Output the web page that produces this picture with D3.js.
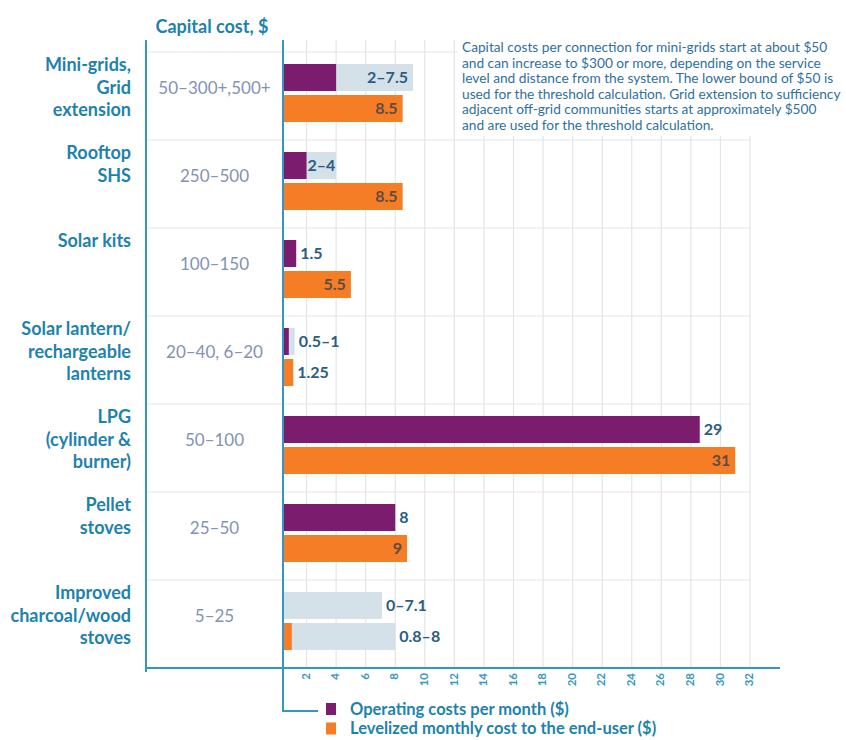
<!DOCTYPE html>
<html>
<head>
<meta charset="utf-8">
<script src="https://cdn.jsdelivr.net/npm/d3@7"></script>
<style>
  html, body { margin: 0; padding: 0; background: #ffffff; }
  svg { display: block; font-family: Lato, "Open Sans", sans-serif; }
</style>
</head>
<body>
<svg id="chart" width="846" height="740"></svg>
<script>
// ---- data ----
const categories = [
  "Mini-grids,\nGrid\nextension",
  "Rooftop\nSHS",
  "Solar kits",
  "Solar lantern/\nrechargeable\nlanterns",
  "LPG\n(cylinder &\nburner)",
  "Pellet\nstoves",
  "Improved\ncharcoal/wood\nstoves"
];
const capitalCost = ["50–300+,500+", "250–500", "100–150", "20–40, 6–20", "50–100", "25–50", "5–25"];
const operatingCost     = [4, 2, 1.3, 0.8, 28.6, 8, 0];
const operatingRangeEnd = [9.2, 4, null, 1.2, null, null, 7.1];
const levelizedCost     = [8.5, 8.5, 5, 1.1, 31, 8.8, 1];
const levelizedRangeEnd = [null, null, null, null, null, null, 8];
const operatingLabels = ["2–7.5", "2–4", "1.5", "0.5–1", "29", "8", "0–7.1"];
const levelizedLabels = ["8.5", "8.5", "5.5", "1.25", "31", "9", "0.8–8"];
const operatingLabelPos = ["inside", "afterValue", "outside", "outside", "outside", "outside", "outside"];
const levelizedLabelPos = ["inside", "inside", "inside", "outside", "inside", "inside", "outside"];
const xTicks = [2, 4, 6, 8, 10, 12, 14, 16, 18, 20, 22, 24, 26, 28, 30, 32];
const noteLines = [
  "Capital costs per connection for mini-grids start at about $50",
  "and can increase to $300 or more, depending on the service",
  "level and distance from the system. The lower bound of $50 is",
  "used for the threshold calculation. Grid extension to sufficiency",
  "adjacent off-grid communities starts at approximately $500",
  "and are used for the threshold calculation."
];
const legendItems = ["Operating costs per month ($)", "Levelized monthly cost to the end-user ($)"];
const headerText = "Capital cost, $";

// ---- styles ----
const C = {
  teal: "#3597bf",
  catText: "#1d82ac",
  capText: "#8292b2",
  grid: "#e1e6ea",
  purple: "#7b1c6f",
  orange: "#f47d26",
  range: "#d4e1e8",
  valText: "#2b5d82",
  valOnOrange: "#5e4b45",
  note: "#2f6fa2"
};

// ---- layout ----
const svg = d3.select("#chart");
const leftLineX = 146, axisX = 283, topY = 40, rowsTop = 52, rowsBottom = 668;
const axisRight = 780, legendY = 711;

const x = d3.scaleLinear().domain([0, 32]).range([277, 750]);
const y = d3.scaleBand().domain(d3.range(categories.length)).range([rowsTop, rowsBottom]);
const barH = 27, bar1Off = 12, bar2Off = 43;

// vertical gridlines
svg.append("g").selectAll("line").data(xTicks).join("line")
  .attr("x1", d => x(d)).attr("x2", d => x(d))
  .attr("y1", topY).attr("y2", rowsBottom)
  .attr("stroke", C.grid).attr("stroke-width", 1.2);

// row separators
const seps = [rowsTop].concat(d3.range(1, categories.length).map(i => y(i)));
svg.append("g").selectAll("line").data(seps).join("line")
  .attr("x1", leftLineX).attr("x2", x(32))
  .attr("y1", d => d).attr("y2", d => d)
  .attr("stroke", C.grid).attr("stroke-width", 1.2);

// note box (covers grid)
svg.append("rect").attr("x", 458).attr("y", topY - 2).attr("width", 846 - 458).attr("height", 98)
  .attr("fill", "#ffffff");
svg.append("g").selectAll("text").data(noteLines).join("text")
  .attr("x", 462).attr("y", (d, i) => 52 + i * 15.6)
  .attr("font-size", 13.7).attr("fill", C.note)
  .text(d => d);

// header
svg.append("text").attr("x", 212).attr("y", 33).attr("text-anchor", "middle")
  .attr("font-size", 18).attr("font-weight", 700).attr("fill", C.catText).text(headerText);

// category labels
const catG = svg.append("g").selectAll("text").data(categories).join("text")
  .attr("text-anchor", "end").attr("font-size", 18).attr("font-weight", 700).attr("fill", C.catText);
catG.each(function(d, i) {
  d3.select(this).selectAll("tspan").data(d.split("\n")).join("tspan")
    .attr("x", 131).attr("y", (t, j) => y(i) + 19 + j * 22.5).text(t => t);
});

// capital cost
svg.append("g").selectAll("text").data(capitalCost).join("text")
  .attr("x", (leftLineX + axisX) / 2).attr("y", (d, i) => y(i) + 42)
  .attr("text-anchor", "middle").attr("font-size", 17).attr("fill", C.capText).text(d => d);

// bars
const idx = d3.range(categories.length);
const barsG = svg.append("g");
barsG.selectAll("rect.opr").data(idx.filter(i => operatingRangeEnd[i] != null)).join("rect")
  .attr("x", axisX).attr("y", i => y(i) + bar1Off)
  .attr("width", i => x(operatingRangeEnd[i]) - axisX).attr("height", barH).attr("fill", C.range);
barsG.selectAll("rect.op").data(idx.filter(i => operatingCost[i] > 0)).join("rect")
  .attr("x", axisX).attr("y", i => y(i) + bar1Off)
  .attr("width", i => Math.max(0, x(operatingCost[i]) - axisX)).attr("height", barH).attr("fill", C.purple);
barsG.selectAll("rect.lvr").data(idx.filter(i => levelizedRangeEnd[i] != null)).join("rect")
  .attr("x", axisX).attr("y", i => y(i) + bar2Off)
  .attr("width", i => x(levelizedRangeEnd[i]) - axisX).attr("height", barH).attr("fill", C.range);
barsG.selectAll("rect.lv").data(idx.filter(i => levelizedCost[i] > 0)).join("rect")
  .attr("x", axisX).attr("y", i => y(i) + bar2Off)
  .attr("width", i => Math.max(0, x(levelizedCost[i]) - axisX)).attr("height", barH).attr("fill", C.orange);

// value labels
function placeLabel(i, text, pos, value, rangeEnd, off, onOrange) {
  const end = rangeEnd != null ? rangeEnd : value;
  let tx, anchor, fill = C.valText;
  if (pos === "inside") { tx = x(end) - 5; anchor = "end"; if (rangeEnd == null && onOrange) fill = C.valOnOrange; }
  else if (pos === "afterValue") { tx = x(value) + 1; anchor = "start"; }
  else { tx = x(end) + 4; anchor = "start"; }
  svg.append("text").attr("x", tx).attr("y", y(i) + off + barH / 2).attr("dy", "0.36em")
    .attr("text-anchor", anchor).attr("font-size", 16).attr("font-weight", 700).attr("fill", fill).text(text);
}
idx.forEach(i => {
  placeLabel(i, operatingLabels[i], operatingLabelPos[i], operatingCost[i], operatingRangeEnd[i], bar1Off, false);
  placeLabel(i, levelizedLabels[i], levelizedLabelPos[i], levelizedCost[i], levelizedRangeEnd[i], bar2Off, true);
});

// axis lines
svg.append("line").attr("x1", leftLineX).attr("x2", leftLineX).attr("y1", topY).attr("y2", rowsBottom + 4)
  .attr("stroke", C.teal).attr("stroke-width", 2);
svg.append("path").attr("d", `M${axisX},${topY}V${legendY}H318`).attr("fill", "none")
  .attr("stroke", C.teal).attr("stroke-width", 2);
svg.append("line").attr("x1", leftLineX).attr("x2", axisRight).attr("y1", rowsBottom).attr("y2", rowsBottom)
  .attr("stroke", C.teal).attr("stroke-width", 2);

// tick labels (rotated)
svg.append("g").selectAll("text").data(xTicks).join("text")
  .attr("transform", d => `translate(${x(d) - 1},${rowsBottom + 5}) rotate(-90)`)
  .attr("text-anchor", "end").attr("dy", "0.36em")
  .attr("font-size", 11.5).attr("font-weight", 700).attr("fill", C.teal).text(d => d);

// legend
const legColors = [C.purple, C.orange];
const leg = svg.append("g").selectAll("g").data(legendItems).join("g")
  .attr("transform", (d, i) => `translate(326,${legendY - 2 + i * 19.5})`);
leg.append("rect").attr("x", 0).attr("y", -6).attr("width", 10).attr("height", 12)
  .attr("fill", (d, i) => legColors[i]);
leg.append("text").attr("x", 24).attr("y", 0).attr("dy", "0.35em")
  .attr("font-size", 16.5).attr("font-weight", 700).attr("fill", C.catText).text(d => d);
</script>
</body>
</html>
